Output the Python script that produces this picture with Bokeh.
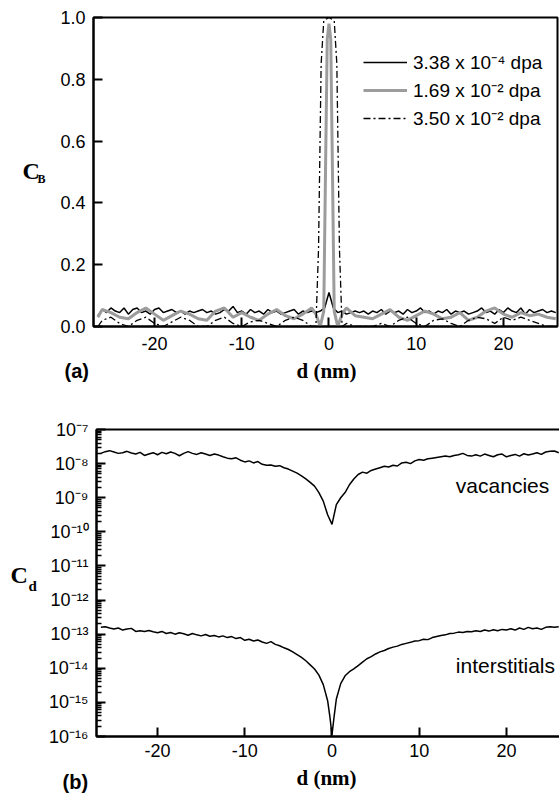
import numpy as np
from bokeh.plotting import figure
from bokeh.models import (Range1d, FixedTicker, PrintfTickFormatter,
                          CustomJSTickFormatter, Label, Legend, LegendItem)
from bokeh.layouts import column, row
from bokeh.embed import file_html
from bokeh.resources import INLINE

# ---------------- data: panel (a) ----------------
series_labels = ["3.38 x 10\u207b\u2074 dpa", "1.69 x 10\u207b\u00b2 dpa", "3.50 x 10\u207b\u00b2 dpa"]

d_grid = [-26.5, -26.0, -25.5, -25.0, -24.5, -24.0, -23.5, -23.0, -22.5, -22.0,
          -21.5, -21.0, -20.5, -20.0, -19.5, -19.0, -18.5, -18.0, -17.5, -17.0,
          -16.5, -16.0, -15.5, -15.0, -14.5, -14.0, -13.5, -13.0, -12.5, -12.0,
          -11.5, -11.0, -10.5, -10.0, -9.5, -9.0, -8.5, -8.0, -7.5, -7.0,
          -6.5, -6.0, -5.5, -5.0, -4.5, -4.0, -3.5, -3.0, -2.5, -2.0,
          -1.5, -1.0, -0.5, 0.0, 0.5, 1.0, 1.5, 2.0, 2.5, 3.0,
          3.5, 4.0, 4.5, 5.0, 5.5, 6.0, 6.5, 7.0, 7.5, 8.0,
          8.5, 9.0, 9.5, 10.0, 10.5, 11.0, 11.5, 12.0, 12.5, 13.0,
          13.5, 14.0, 14.5, 15.0, 15.5, 16.0, 16.5, 17.0, 17.5, 18.0,
          18.5, 19.0, 19.5, 20.0, 20.5, 21.0, 21.5, 22.0, 22.5, 23.0,
          23.5, 24.0, 24.5, 25.0, 25.5, 26.0]

cb_low = [0.035, 0.055, 0.045, 0.060, 0.050, 0.045, 0.060, 0.040, 0.055, 0.060,
          0.045, 0.050, 0.040, 0.055, 0.060, 0.045, 0.050, 0.055, 0.045, 0.050,
          0.040, 0.050, 0.045, 0.050, 0.055, 0.045, 0.050, 0.040, 0.045, 0.055,
          0.050, 0.065, 0.045, 0.050, 0.040, 0.055, 0.045, 0.050, 0.040, 0.055,
          0.045, 0.050, 0.040, 0.045, 0.050, 0.055, 0.040, 0.050, 0.045, 0.050,
          0.045, 0.050, 0.060, 0.110, 0.060, 0.045, 0.050, 0.040, 0.045, 0.050,
          0.045, 0.050, 0.040, 0.050, 0.045, 0.055, 0.040, 0.050, 0.045, 0.050,
          0.040, 0.055, 0.045, 0.050, 0.060, 0.045, 0.050, 0.040, 0.050, 0.045,
          0.055, 0.040, 0.050, 0.045, 0.050, 0.040, 0.045, 0.050, 0.060, 0.045,
          0.050, 0.040, 0.055, 0.045, 0.060, 0.050, 0.045, 0.060, 0.040, 0.055,
          0.045, 0.050, 0.055, 0.045, 0.050, 0.045]

d_mid = [-26.5, -26, -25, -24, -23, -22, -21, -20, -19, -18, -17, -16, -15, -14,
         -13, -12, -11, -10, -9, -8, -7, -6, -5, -4, -3, -2,
         -1.5, -1, -0.6, -0.4, -0.2, 0, 0.2, 0.4, 0.6, 1, 1.5,
         2, 3, 4, 5, 6, 7, 8, 9, 10, 11, 12, 13, 14, 15, 16, 17, 18, 19, 20,
         21, 22, 23, 24, 25, 26]
cb_mid = [0.030, 0.055, 0.045, 0.030, 0.025, 0.045, 0.060, 0.040, 0.020, 0.035,
          0.050, 0.040, 0.025, 0.020, 0.050, 0.060, 0.030, 0.045, 0.030, 0.020,
          0.040, 0.055, 0.035, 0.025, 0.040, 0.060,
          0.040, 0.000, 0.050, 0.500, 0.930, 0.980, 0.930, 0.500, 0.050, 0.000, 0.040,
          0.060, 0.035, 0.030, 0.025, 0.040, 0.055, 0.030, 0.020, 0.035, 0.050,
          0.040, 0.025, 0.030, 0.045, 0.020, 0.030, 0.050, 0.060, 0.040,
          0.030, 0.045, 0.035, 0.040, 0.030, 0.025]

d_high = [-26.5, -26, -25, -24, -23, -22, -21, -20, -19, -18, -17, -16, -15, -14,
          -13, -12, -11, -10, -9, -8, -7, -6, -5, -4, -3, -2,
          -1.5, -1.2, -0.9, -0.6, 0, 0.6, 0.9, 1.2, 1.5,
          2, 3, 4, 5, 6, 7, 8, 9, 10, 11, 12, 13, 14, 15, 16, 17, 18, 19, 20,
          21, 22, 23, 24, 25, 26]
cb_high = [0.000, 0.020, 0.030, 0.010, 0.000, 0.020, 0.030, 0.010, 0.000, 0.015,
           0.030, 0.020, 0.000, 0.000, 0.020, 0.030, 0.010, 0.000, 0.015, 0.020,
           0.010, 0.000, 0.020, 0.030, 0.020, 0.000,
           0.000, 0.250, 0.850, 0.990, 1.000, 0.990, 0.850, 0.250, 0.000,
           0.010, 0.000, 0.000, 0.000, 0.010, 0.000, 0.020, 0.030, 0.010, 0.000,
           0.020, 0.025, 0.010, 0.000, 0.020, 0.030, 0.025, 0.010, 0.030,
           0.020, 0.030, 0.020, 0.010, 0.000, 0.000]

x_ticks = [-20, -10, 0, 10, 20]
cb_ticks = [0.0, 0.2, 0.4, 0.6, 0.8, 1.0]

# ---------------- data: panel (b) (log10 of C_d) ----------------
vac_log10 = [-7.70, -7.65, -7.62, -7.66, -7.70, -7.68, -7.64, -7.69, -7.72, -7.67,
             -7.76, -7.72, -7.68, -7.74, -7.67, -7.71, -7.66, -7.70, -7.77, -7.70,
             -7.65, -7.70, -7.73, -7.68, -7.72, -7.76, -7.72, -7.75, -7.80, -7.84,
             -7.86, -7.83, -7.90, -7.95, -7.92, -7.98, -7.94, -8.02, -8.05, -8.04,
             -8.08, -8.06, -8.12, -8.16, -8.22, -8.28, -8.36, -8.45, -8.55, -8.66,
             -8.85, -9.10, -9.50, -9.78, -9.20, -9.00, -8.85, -8.62, -8.45, -8.32,
             -8.25, -8.28, -8.20, -8.16, -8.12, -8.08, -8.10, -8.05, -8.07, -7.98,
             -7.96, -8.00, -7.92, -7.88, -7.90, -7.86, -7.84, -7.82, -7.80, -7.78,
             -7.80, -7.76, -7.74, -7.70, -7.76, -7.78, -7.74, -7.78, -7.72, -7.76,
             -7.80, -7.74, -7.72, -7.80, -7.76, -7.73, -7.78, -7.71, -7.75, -7.72,
             -7.68, -7.73, -7.66, -7.64, -7.63, -7.68]

d_int = [-26.5, -26.0, -25.5, -25.0, -24.5, -24.0, -23.5, -23.0, -22.5, -22.0,
         -21.5, -21.0, -20.5, -20.0, -19.5, -19.0, -18.5, -18.0, -17.5, -17.0,
         -16.5, -16.0, -15.5, -15.0, -14.5, -14.0, -13.5, -13.0, -12.5, -12.0,
         -11.5, -11.0, -10.5, -10.0, -9.5, -9.0, -8.5, -8.0, -7.5, -7.0,
         -6.5, -6.0, -5.5, -5.0, -4.5, -4.0, -3.5, -3.0, -2.5, -2.0,
         -1.5, -1.0, -0.5, -0.25, 0.0, 0.25, 0.5, 1.0, 1.5, 2.0,
         2.5, 3.0, 3.5, 4.0, 4.5, 5.0, 5.5, 6.0, 6.5, 7.0,
         7.5, 8.0, 8.5, 9.0, 9.5, 10.0, 10.5, 11.0, 11.5, 12.0,
         12.5, 13.0, 13.5, 14.0, 14.5, 15.0, 15.5, 16.0, 16.5, 17.0,
         17.5, 18.0, 18.5, 19.0, 19.5, 20.0, 20.5, 21.0, 21.5, 22.0,
         22.5, 23.0, 23.5, 24.0, 24.5, 25.0, 25.5, 26.0]
int_log10 = [-12.80, -12.78, -12.82, -12.85, -12.82, -12.88, -12.85, -12.83, -12.92, -12.90,
             -12.92, -12.89, -12.93, -12.96, -12.92, -12.98, -12.95, -13.00, -12.96, -12.99,
             -13.03, -12.98, -13.02, -13.05, -13.01, -13.06, -13.04, -13.08, -13.05, -13.10,
             -13.07, -13.13, -13.10, -13.18, -13.15, -13.20, -13.17, -13.23, -13.27, -13.22,
             -13.30, -13.34, -13.40, -13.45, -13.52, -13.60, -13.68, -13.78, -13.90, -14.02,
             -14.20, -14.48, -14.95, -15.40, -15.95, -15.40, -14.90, -14.45, -14.22, -14.10,
             -14.02, -13.92, -13.82, -13.72, -13.66, -13.58, -13.52, -13.48, -13.42, -13.38,
             -13.35, -13.30, -13.27, -13.24, -13.20, -13.19, -13.15, -13.16, -13.10, -13.07,
             -13.04, -13.02, -12.98, -12.97, -12.94, -12.95, -12.92, -12.93, -12.90, -12.92,
             -12.88, -12.91, -12.87, -12.90, -12.86, -12.88, -12.84, -12.88, -12.82, -12.86,
             -12.80, -12.84, -12.82, -12.86, -12.80, -12.78, -12.80, -12.78]

cd_tick_exponents = [-16, -15, -14, -13, -12, -11, -10, -9, -8, -7]

# ---------------- helpers ----------------
SANS = "Liberation Sans"
SERIF = "Liberation Serif"


def style(p, x_standoff):
    for ax in (p.xaxis[0], p.yaxis[0]):
        ax.axis_line_width = 2
        ax.axis_line_color = "black"
        ax.major_tick_in = 9
        ax.major_tick_out = 0
        ax.minor_tick_in = 0
        ax.minor_tick_out = 0
        ax.major_tick_line_width = 2
        ax.major_tick_line_color = "black"
        ax.major_label_text_font = SANS
        ax.major_label_text_font_size = "18px"
        ax.major_label_text_color = "black"
        ax.major_label_standoff = 8
    p.xaxis.major_label_standoff = x_standoff
    p.xgrid.visible = False
    p.ygrid.visible = False
    p.outline_line_color = "black"
    p.outline_line_width = 2
    p.xaxis.ticker = FixedTicker(ticks=x_ticks)
    p.xaxis.formatter = PrintfTickFormatter(format="%d")


def text_fig(w, h):
    f = figure(width=w, height=h, min_border=0, x_range=Range1d(0, w), y_range=Range1d(0, h),
               x_axis_location=None, y_axis_location=None, outline_line_color=None,
               output_backend="svg", toolbar_location=None,
               background_fill_color="white", border_fill_color="white")
    for g in list(f.center):
        g.visible = False
    f.grid.grid_line_color = None
    return f


def add_text(f, x, y, text, font, size, bold=True, align="left"):
    f.add_layout(Label(x=x, y=y, text=text, text_font=font,
                       text_font_style="bold" if bold else "normal",
                       text_font_size=size, text_baseline="middle",
                       text_align=align, text_color="black"))


# ---------------- panel (a) ----------------
p1 = figure(frame_width=464, frame_height=309, min_border_left=45, min_border_right=2,
            min_border_top=17, min_border_bottom=31,
            x_range=Range1d(-27, 26.2), y_range=Range1d(0, 1),
            output_backend="svg", toolbar_location=None,
            background_fill_color="white", border_fill_color="white")
style(p1, 10)
p1.yaxis.ticker = FixedTicker(ticks=cb_ticks)
p1.yaxis.formatter = PrintfTickFormatter(format="%.1f")

r_low = p1.line(d_grid, cb_low, line_color="black", line_width=1.5)
r_mid = p1.line(d_mid, cb_mid, line_color="#9c9c9c", line_width=3)
r_high = p1.line(d_high, cb_high, line_color="black", line_width=1.3, line_dash="7 3 2 3")

legend = Legend(items=[LegendItem(label=series_labels[0], renderers=[r_low]),
                       LegendItem(label=series_labels[1], renderers=[r_mid]),
                       LegendItem(label=series_labels[2], renderers=[r_high])],
                location=(270, 195), border_line_color=None, background_fill_alpha=0,
                padding=0, spacing=2, glyph_width=44, glyph_height=20,
                label_height=20, label_standoff=6,
                label_text_font=SANS, label_text_font_size="19px", label_text_color="black")
p1.add_layout(legend)

L1 = text_fig(48, 357)
add_text(L1, 22, 180, "C", SERIF, "24px")
add_text(L1, 37, 170, "B", SERIF, "12px")

S1 = text_fig(559, 39)
add_text(S1, 64, 26, "(a)", SANS, "20px")
add_text(S1, 326, 26, "d (nm)", SERIF, "21px", align="center")

# ---------------- panel (b) ----------------
p2 = figure(frame_width=464, frame_height=307, min_border_left=48, min_border_right=2,
            min_border_top=33, min_border_bottom=28,
            x_range=Range1d(-27, 26.2), y_range=Range1d(1e-16, 1e-7), y_axis_type="log",
            output_backend="svg", toolbar_location=None,
            background_fill_color="white", border_fill_color="white")
style(p2, 7)
major = [10.0 ** e for e in cd_tick_exponents]
minor = [k * 10.0 ** e for e in cd_tick_exponents[:-1] for k in range(2, 10)]
p2.yaxis.ticker = FixedTicker(ticks=major, minor_ticks=minor)
p2.yaxis.minor_tick_in = 5
p2.yaxis.minor_tick_line_width = 1.5
p2.yaxis.minor_tick_line_color = "black"
p2.yaxis.formatter = CustomJSTickFormatter(code="""
const e = Math.round(Math.log10(tick));
const sup = {'-':'\u207b','0':'\u2070','1':'\u00b9','2':'\u00b2','3':'\u00b3','4':'\u2074',
             '5':'\u2075','6':'\u2076','7':'\u2077','8':'\u2078','9':'\u2079'};
return '10' + String(e).split('').map(c => sup[c]).join('');
""")

p2.line(d_grid, (10.0 ** np.array(vac_log10)).tolist(), line_color="black", line_width=1.5)
p2.line(d_int, (10.0 ** np.array(int_log10)).tolist(), line_color="black", line_width=1.5)

p2.add_layout(Label(x=14.2, y=10 ** -8.64, text="vacancies", text_font=SANS,
                    text_font_size="21px", text_baseline="middle", text_align="left",
                    text_color="black"))
p2.add_layout(Label(x=14.2, y=10 ** -13.92, text="interstitials", text_font=SANS,
                    text_font_size="21px", text_baseline="middle", text_align="left",
                    text_color="black"))

L2 = text_fig(45, 368)
add_text(L2, 10, 193, "C", SERIF, "24px")
add_text(L2, 28, 181, "d", SERIF, "15px")

S2 = text_fig(559, 29)
add_text(S2, 62, 12, "(b)", SANS, "20px")
add_text(S2, 326, 16, "d (nm)", SERIF, "21px", align="center")

layout = column(row(L1, p1, spacing=0), S1, row(L2, p2, spacing=0), S2, spacing=0)
open("out.html", "w").write(file_html(layout, INLINE))
